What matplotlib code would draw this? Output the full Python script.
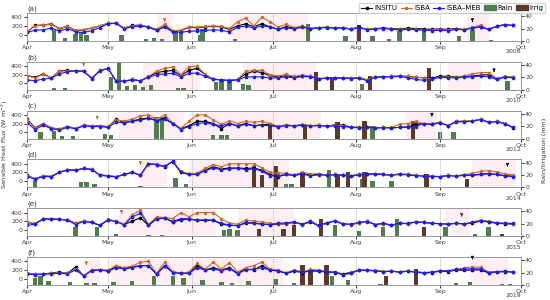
import matplotlib
matplotlib.use('Agg')
import matplotlib.pyplot as plt
import matplotlib.dates as mdates
import pandas as pd
from matplotlib.lines import Line2D
from matplotlib.patches import Patch

plt.rcParams['font.family'] = 'DejaVu Sans'
plt.rcParams['font.size'] = 4.5

# Sensible heat flux (W m-2) every 3 days from 1 April, one list per model and season
insitu_a = [60, 210, 220, 250, 130, 190, 90, 110, 150, 200, 260, 260, 150, 210, 220, 170, 100, 190, 80, 90,
            170, 160, 180, 190, 180, 120, 200, 250, 180, 250, 180,
            120, 180, 150, 190, 140, 160, 170, 150, 160, 130, 170, 120, 140, 150, 140, 130, 150, 140, 130, 120,
            130, 120, 140, 110, 160, 180, 120, 190, 230, 210]
isba_a = [60, 200, 220, 240, 140, 190, 100, 110, 150, 200, 260, 260, 150, 200, 210, 180, 120, 240, 90, 100,
          180, 170, 190, 200, 190, 140, 300, 380, 200, 400, 300,
          170, 240, 160, 200, 140, 160, 170, 150, 160, 130, 160, 120, 140, 140, 130, 120, 130, 120, 110, 100,
          120, 110, 130, 120, 170, 220, 120, 190, 230, 210]
meb_a = [50, 100, 110, 150, 80, 140, 60, 50, 90, 160, 250, 260, 130, 180, 190, 180, 100, 170, 60, 50,
         80, 80, 100, 110, 100, 60, 170, 200, 150, 200, 180,
         120, 160, 130, 170, 130, 150, 160, 150, 150, 120, 160, 110, 130, 140, 130, 100, 120, 110, 100, 90,
         100, 90, 120, 110, 150, 170, 120, 190, 230, 210]

insitu_b = [180, 140, 220, 120, 290, 300, 290, 280, 120, 300, 340, 60, 50, 90, 60, 150, 250, 280, 300, 180,
            300, 350, 200, 100, 80, 70, 90, 220, 280, 250, 180,
            150, 180, 140, 170, 160, 110, 120, 120, 130, 120, 130, 80, 150, 150, 160, 170, 160, 140, 130, 120,
            170, 160, 150, 160, 170, 190, 200, 110, 150, 150]
isba_b = [170, 130, 210, 120, 280, 290, 290, 280, 110, 300, 340, 60, 50, 90, 60, 160, 280, 350, 380, 200,
          390, 400, 210, 100, 80, 70, 90, 280, 300, 300, 200,
          170, 210, 160, 200, 160, 110, 120, 120, 130, 120, 130, 80, 150, 150, 160, 170, 160, 140, 130, 100,
          150, 140, 150, 170, 220, 250, 250, 110, 160, 150]
meb_b = [80, 60, 100, 120, 220, 270, 290, 280, 110, 290, 350, 50, 50, 80, 60, 140, 200, 220, 230, 150,
         230, 240, 160, 90, 80, 60, 80, 150, 150, 150, 120,
         130, 150, 130, 160, 150, 100, 120, 120, 120, 110, 120, 60, 140, 150, 150, 160, 130, 90, 70, 100,
         140, 130, 130, 140, 150, 170, 150, 90, 140, 130]

insitu_c = [300, 100, 200, 100, 70, 130, 80, 160, 150, 150, 120, 300, 220, 260, 300, 330, 280, 320, 200, 80,
            150, 250, 250, 200, 80, 200, 150, 200, 150, 170, 180,
            130, 160, 150, 170, 150, 160, 140, 170, 160, 120, 110, 120, 100, 110, 100, 110, 120, 180, 200, 180,
            220, 150, 250, 250, 260, 300, 230, 250, 200, 100]
isba_c = [280, 90, 190, 100, 70, 130, 90, 160, 150, 150, 130, 280, 260, 300, 380, 400, 300, 400, 220, 90,
          250, 400, 400, 280, 180, 260, 200, 250, 230, 250, 200,
          140, 170, 150, 170, 150, 160, 140, 160, 150, 110, 110, 120, 100, 110, 110, 180, 200, 250, 200, 200,
          230, 150, 250, 260, 260, 300, 230, 250, 200, 110]
meb_c = [220, 60, 160, 80, 50, 110, 80, 140, 130, 130, 110, 230, 220, 250, 280, 320, 260, 300, 200, 60,
         130, 200, 220, 180, 150, 200, 140, 180, 150, 160, 150,
         120, 150, 140, 160, 140, 150, 140, 140, 130, 110, 100, 110, 100, 100, 100, 110, 120, 130, 200, 180,
         220, 150, 240, 240, 250, 290, 230, 240, 200, 110]

insitu_d = [130, 50, 120, 100, 200, 260, 250, 290, 270, 140, 120, 100, 150, 200, 130, 400, 380, 330, 450, 200,
            150, 150, 250, 330, 280, 300, 300, 290, 300, 250, 150,
            100, 150, 130, 170, 130, 160, 140, 150, 140, 120, 150, 160, 170, 150, 140, 160, 150, 130, 120, 110,
            100, 130, 120, 140, 130, 150, 170, 150, 120, 110]
isba_d = [120, 50, 120, 110, 210, 260, 250, 290, 270, 140, 120, 100, 150, 200, 140, 400, 390, 340, 460, 220,
          170, 180, 290, 380, 330, 400, 400, 400, 400, 300, 200,
          180, 180, 140, 210, 160, 170, 140, 150, 140, 120, 150, 160, 170, 150, 140, 160, 150, 130, 120, 110,
          100, 130, 120, 140, 180, 220, 240, 210, 160, 140]
meb_d = [100, 40, 100, 100, 200, 250, 250, 290, 260, 130, 110, 90, 150, 200, 130, 400, 380, 340, 460, 200,
         150, 150, 240, 300, 260, 280, 300, 260, 280, 230, 120,
         120, 150, 130, 160, 120, 140, 130, 140, 130, 110, 140, 150, 160, 150, 130, 150, 140, 120, 110, 100,
         100, 120, 110, 130, 140, 160, 170, 150, 120, 100]

insitu_e = [170, 140, 250, 250, 240, 230, 150, 200, 170, 100, 230, 200, 120, 200, 280, 100, 250, 270, 180, 230,
            250, 220, 220, 220, 130, 100, 100, 150, 160, 130, 120,
            130, 140, 170, 120, 180, 90, 150, 200, 130, 120, 160, 200, 120, 140, 100, 150, 140, 180, 170, 150,
            140, 130, 150, 130, 160, 200, 180, 150, 140, 130]
isba_e = [170, 150, 250, 250, 240, 230, 150, 200, 180, 110, 240, 200, 130, 350, 450, 120, 300, 280, 260, 400,
          300, 400, 400, 400, 250, 150, 130, 220, 200, 180, 150,
          130, 140, 180, 120, 200, 90, 150, 200, 130, 120, 160, 200, 120, 140, 100, 150, 140, 180, 170, 150,
          140, 130, 150, 130, 180, 230, 200, 160, 150, 140]
meb_e = [100, 130, 250, 250, 240, 220, 120, 190, 170, 100, 220, 190, 110, 300, 380, 110, 260, 270, 190, 260,
         250, 220, 230, 220, 150, 110, 90, 170, 150, 130, 120,
         150, 160, 180, 130, 200, 100, 160, 210, 140, 130, 170, 190, 120, 150, 110, 150, 150, 180, 170, 150,
         140, 130, 150, 140, 170, 200, 190, 160, 150, 150]

insitu_f = [130, 100, 100, 130, 150, 120, 270, 60, 200, 200, 180, 280, 240, 270, 300, 300, 100, 300, 150, 120,
            130, 300, 200, 250, 200, 250, 120, 220, 200, 300, 200,
            180, 120, 170, 140, 180, 170, 150, 140, 90, 120, 200, 190, 180, 160, 170, 150, 170, 150, 130, 140,
            170, 160, 200, 190, 200, 200, 130, 150, 160, 150]
isba_f = [120, 100, 100, 120, 140, 120, 220, 70, 200, 200, 200, 300, 250, 290, 380, 400, 120, 380, 160, 130,
          150, 350, 220, 380, 220, 370, 150, 250, 300, 380, 220,
          200, 130, 200, 150, 210, 200, 160, 150, 110, 150, 200, 200, 190, 170, 170, 160, 180, 160, 140, 150,
          180, 180, 210, 250, 270, 260, 150, 160, 170, 150]
meb_f = [100, 90, 100, 110, 120, 110, 200, 60, 180, 200, 170, 250, 220, 250, 300, 300, 100, 280, 140, 120,
         120, 250, 200, 220, 180, 230, 110, 200, 220, 250, 200,
         170, 130, 180, 150, 180, 180, 160, 150, 100, 140, 190, 190, 180, 160, 170, 150, 170, 150, 130, 150,
         180, 180, 210, 220, 230, 220, 140, 160, 170, 150]

# Rain and irrigation: day after 1 April, amount in mm
rain_a_day = [10, 14, 18, 20, 22, 35, 44, 47, 50, 55, 57, 64, 65, 77, 104, 118, 128, 134, 138, 147, 160, 165, 172]
rain_a_mm = [18, 5, 12, 14, 10, 10, 4, 5, 3, 16, 14, 10, 20, 3, 27, 8, 8, 3, 16, 16, 8, 18, 2]
irrig_a_day = [123]
irrig_a_mm = [26]

rain_b_day = [10, 14, 31, 34, 37, 40, 43, 46, 56, 58, 70, 72, 75, 80, 82, 124, 178]
rain_b_mm = [3, 3, 20, 48, 6, 8, 5, 7, 3, 3, 12, 15, 15, 10, 8, 10, 14]
irrig_b_day = [107, 113, 127, 149]
irrig_b_mm = [28, 21, 22, 35]

rain_c_day = [5, 10, 13, 17, 29, 31, 48, 50, 69, 72, 74, 128, 153, 158]
rain_c_mm = [10, 12, 4, 4, 8, 6, 35, 35, 5, 5, 5, 21, 10, 10]
irrig_c_day = [90, 103, 115, 125, 143]
irrig_c_mm = [25, 21, 27, 28, 28]

rain_d_day = [3, 20, 22, 25, 42, 55, 59, 96, 98, 112, 124, 128, 135]
rain_d_mm = [10, 8, 8, 5, 3, 15, 5, 5, 5, 28, 14, 10, 11]
irrig_d_day = [84, 87, 92, 102, 115, 119, 125, 148, 163]
irrig_d_mm = [35, 20, 34, 24, 21, 24, 24, 21, 13]

rain_e_day = [18, 26, 33, 45, 50, 73, 75, 78, 114, 123, 132, 137, 155, 166, 171]
rain_e_mm = [14, 14, 3, 2, 2, 10, 12, 10, 18, 8, 14, 28, 14, 3, 14]
irrig_e_day = [86, 95, 99, 109, 147, 176]
irrig_e_mm = [12, 12, 18, 28, 15, 4]

rain_f_day = [3, 5, 8, 16, 22, 25, 32, 39, 47, 54, 58, 65, 72, 76, 82, 92, 99, 113, 119, 131, 159, 164, 176, 179]
rain_f_mm = [12, 14, 7, 5, 3, 3, 5, 7, 15, 14, 12, 8, 5, 3, 7, 10, 3, 15, 8, 2, 3, 5, 2, 2]
irrig_f_day = [102, 105, 111, 133, 144]
irrig_f_mm = [32, 22, 32, 15, 25]

# shaded periods (day after 1 April) and arrows (day, flux, colour)
pink_a = [(48, 54), (75, 104), (163, 171)]
pink_b = [(43, 64), (80, 107), (156, 168)]
pink_c = [(34, 58), (60, 109), (140, 152)]
pink_d = [(42, 52), (60, 97), (165, 181)]
pink_e = [(34, 70), (78, 99), (155, 164)]
pink_f = [(21, 27), (31, 95), (164, 178)]
arrows_a = [(51, 230, '#cc6a2c'), (165, 230, 'black')]
arrows_b = [(21, 330, '#cc6a2c'), (173, 200, 'black')]
arrows_c = [(26, 230, '#cc6a2c'), (150, 300, 'black')]
arrows_d = [(42, 310, '#cc6a2c'), (178, 270, 'black')]
arrows_e = [(35, 310, '#cc6a2c'), (161, 240, '#8b1a1a')]
arrows_f = [(22, 250, '#cc6a2c'), (165, 380, 'black')]

labels = ['(a)', '(b)', '(c)', '(d)', '(e)', '(f)']
years = [2008, 2010, 2012, 2014, 2015, 2019]
insitu = [insitu_a, insitu_b, insitu_c, insitu_d, insitu_e, insitu_f]
isba = [isba_a, isba_b, isba_c, isba_d, isba_e, isba_f]
meb = [meb_a, meb_b, meb_c, meb_d, meb_e, meb_f]
rain_day = [rain_a_day, rain_b_day, rain_c_day, rain_d_day, rain_e_day, rain_f_day]
rain_mm = [rain_a_mm, rain_b_mm, rain_c_mm, rain_d_mm, rain_e_mm, rain_f_mm]
irrig_day = [irrig_a_day, irrig_b_day, irrig_c_day, irrig_d_day, irrig_e_day, irrig_f_day]
irrig_mm = [irrig_a_mm, irrig_b_mm, irrig_c_mm, irrig_d_mm, irrig_e_mm, irrig_f_mm]
pinks = [pink_a, pink_b, pink_c, pink_d, pink_e, pink_f]
arrows = [arrows_a, arrows_b, arrows_c, arrows_d, arrows_e, arrows_f]

c_insitu = 'black'
c_isba = '#cc6a2c'
c_meb = '#1a1aff'
c_rain = '#4f7d4f'
c_irrig = '#5b3a2c'

fig = plt.figure(figsize=(5.5, 3), dpi=100)

for i in range(6):
    top = 13 + 48.8 * i
    ax = fig.add_axes([27 / 550, 1 - (top + 28) / 300, 494 / 550, 28 / 300])
    ax2 = ax.twinx()
    ax.set_zorder(ax2.get_zorder() + 1)
    ax.patch.set_visible(False)

    start = pd.Timestamp(f'{years[i]}-04-01')
    dates = pd.date_range(start, periods=len(insitu[i]), freq='3D')
    day = lambda d: start + pd.to_timedelta(d, unit='D')

    for a, b in pinks[i]:
        ax2.axvspan(day(a), day(b), color='#fdeef3', lw=0, zorder=0)
    ax2.bar([day(d) for d in rain_day[i]], rain_mm[i], width=1.6, color=c_rain, zorder=2)
    ax2.bar([day(d) for d in irrig_day[i]], irrig_mm[i], width=1.6, color=c_irrig, zorder=2)
    ax2.set_ylim(0, 45)
    ax2.set_yticks([0, 20, 40])
    ax2.tick_params(axis='y', length=2, pad=1, labelsize=4.5, colors='0.25')

    ax.plot(dates, insitu[i], color=c_insitu, marker='o', ms=1.6, lw=0.8)
    ax.plot(dates, isba[i], color=c_isba, marker='o', ms=1.4, lw=0.8)
    ax.plot(dates, meb[i], color=c_meb, marker='o', ms=1.6, lw=0.8)
    for d, v, c in arrows[i]:
        ax.annotate('', xy=(day(d), v), xytext=(day(d), v + 150),
                    arrowprops=dict(arrowstyle='-|>', color=c, lw=0.6, mutation_scale=4))

    ax.set_ylim(-150, 500)
    ax.set_yticks([0, 200, 400])
    ax.set_xlim(start, pd.Timestamp(f'{years[i]}-10-01'))
    ax.xaxis.set_major_locator(mdates.MonthLocator())
    ax.xaxis.set_major_formatter(mdates.DateFormatter('%b'))
    ax.tick_params(length=2, pad=1, labelsize=4.5, colors='0.25')
    ax.grid(axis='x', color='0.8', lw=0.5)
    for s in list(ax.spines.values()) + list(ax2.spines.values()):
        s.set_color('0.6')
        s.set_linewidth(0.6)
    ax.text(0, 1.04, labels[i], transform=ax.transAxes, fontsize=5, va='bottom', color='0.2')
    ax.text(1, -0.3, str(years[i]), transform=ax.transAxes, ha='right', va='top',
            fontsize=4.5, color='0.25')

fig.text(0.008, 0.52, 'Sensible Heat Flux (W m$^{-2}$)', rotation=90, va='center', ha='center',
         fontsize=4.6, color='0.2')
fig.text(0.99, 0.5, 'Rain/Irrigation (mm)', rotation=90, va='center', ha='center',
         fontsize=4.6, color='0.2')

handles = [Line2D([], [], color=c_insitu, marker='o', ms=1.6, lw=0.8),
           Line2D([], [], color=c_isba, marker='o', ms=1.6, lw=0.8),
           Line2D([], [], color=c_meb, marker='o', ms=1.6, lw=0.8),
           Patch(color=c_rain), Patch(color=c_irrig)]
fig.legend(handles, ['INSITU', 'ISBA', 'ISBA\u2013MEB', 'Rain', 'Irrig'], loc='upper right',
           bbox_to_anchor=(0.998, 1.0), ncol=5, fontsize=5, handlelength=1.6, handletextpad=0.3,
           columnspacing=0.5, borderpad=0.25, frameon=True, edgecolor='0.8', fancybox=False)

fig.savefig('out.png', dpi=100)
